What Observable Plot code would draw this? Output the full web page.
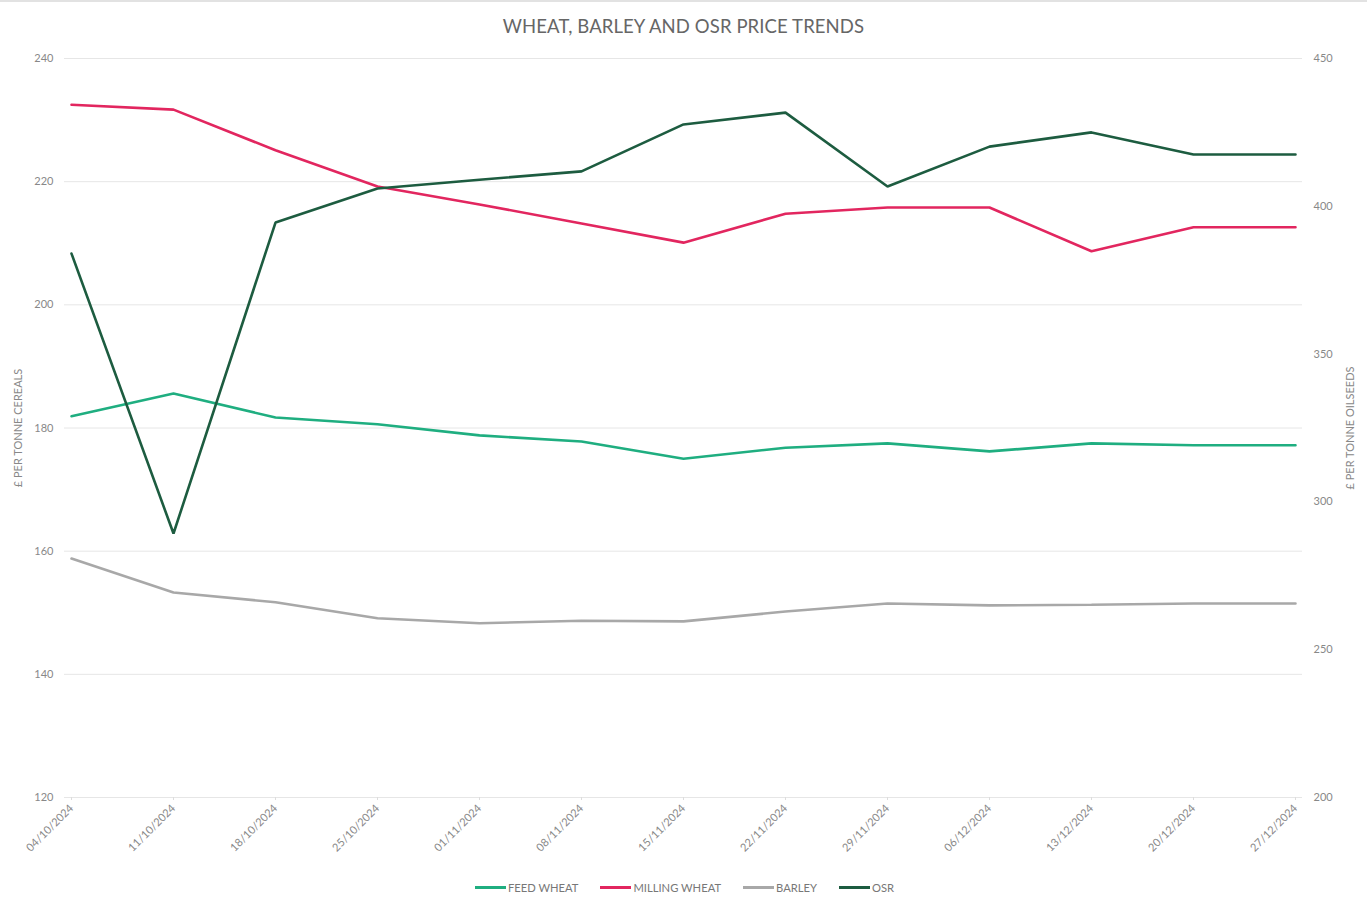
<!DOCTYPE html>
<html>
<head>
<meta charset="utf-8">
<script src="https://cdn.jsdelivr.net/npm/d3@7"></script>
<script src="https://cdn.jsdelivr.net/npm/@observablehq/plot@0.6"></script>
<style>
  html, body { margin: 0; padding: 0; background: #fff; }
  body { width: 1367px; height: 899px; overflow: hidden; font-family: Lato, "Open Sans", sans-serif; border-top: 2px solid #e2e2e2; box-sizing: border-box; }
  #title { height: 43px; line-height: 48px; text-align: center; font-size: 18.5px; color: #666; letter-spacing: 0.1px; }
  #chart svg { display: block; }
  #legend { display: flex; justify-content: center; align-items: center; gap: 22px; font-size: 11.2px; color: #777; margin-top: 0px; padding-left: 2px; }
  #legend .item { display: flex; align-items: center; }
  #legend .sw { display: inline-block; width: 31px; height: 3px; margin-right: 2px; }
</style>
</head>
<body>
<div id="title">WHEAT, BARLEY AND OSR PRICE TRENDS</div>
<div id="chart"></div>
<div id="legend"></div>
<script>
const dates = ["04/10/2024","11/10/2024","18/10/2024","25/10/2024","01/11/2024","08/11/2024","15/11/2024","22/11/2024","29/11/2024","06/12/2024","13/12/2024","20/12/2024","27/12/2024"];
const feedWheat    = [181.9, 185.6, 181.7, 180.6, 178.8, 177.8, 175.0, 176.8, 177.5, 176.2, 177.5, 177.2, 177.2];
const millingWheat = [232.5, 231.7, 225.1, 219.2, 216.3, 213.2, 210.1, 214.8, 215.8, 215.8, 208.7, 212.6, 212.6];
const barley       = [158.8, 153.3, 151.7, 149.1, 148.3, 148.7, 148.6, 150.2, 151.5, 151.2, 151.3, 151.5, 151.5];
const osr          = [384.0, 289.3, 394.5, 406.0, 409.0, 411.8, 427.7, 431.7, 406.7, 420.2, 425.0, 417.5, 417.5];

const seriesNames = ["FEED WHEAT", "MILLING WHEAT", "BARLEY", "OSR"];
const seriesColors = ["#1fae80", "#e2265f", "#a8a8a8", "#1d5c40"];
const leftTicks = [120, 140, 160, 180, 200, 220, 240];
const rightTicks = [200, 250, 300, 350, 400, 450];
const leftDomain = [120, 240];
const rightDomain = [200, 450];

// map right-axis (oilseed) values onto the left-axis scale
const toLeft = v => leftDomain[0] + (v - rightDomain[0]) * (leftDomain[1] - leftDomain[0]) / (rightDomain[1] - rightDomain[0]);
const toRight = v => rightDomain[0] + (v - leftDomain[0]) * (rightDomain[1] - rightDomain[0]) / (leftDomain[1] - leftDomain[0]);

const seriesValues = [feedWheat, millingWheat, barley, osr.map(toLeft)];
const rows = [];
seriesNames.forEach((name, s) => {
  dates.forEach((d, i) => rows.push({series: name, date: d, value: seriesValues[s][i]}));
});

const chart = Plot.plot({
  width: 1367,
  height: 836,
  marginTop: 13,
  marginBottom: 84,
  marginLeft: 70,
  marginRight: 71,
  style: {fontFamily: "Lato, 'Open Sans', sans-serif", fontSize: "11px", color: "#888", background: "#fff"},
  x: {type: "point", domain: dates, padding: 0, label: null},
  y: {domain: leftDomain, label: null},
  color: {domain: seriesNames, range: seriesColors},
  marks: [
    Plot.ruleY(leftTicks, {y: d => d, stroke: "#e6e6e6", strokeWidth: 1, insetLeft: -6, insetRight: -6}),
    Plot.axisX({tickRotate: -45, tickSize: 3, tickPadding: 6, stroke: "#ddd", color: "#888", fontSize: "11px"}),
    Plot.axisY({anchor: "left", ticks: leftTicks, tickSize: 0, tickPadding: 17, label: null, color: "#888"}),
    Plot.axisY({anchor: "right", ticks: rightTicks.map(toLeft), tickFormat: d => Math.round(toRight(d)), tickSize: 0, tickPadding: 17, label: null, color: "#888"}),
    Plot.text(["£ PER TONNE CEREALS"], {frameAnchor: "left", textAnchor: "middle", dx: -52, rotate: -90, fill: "#888", fontSize: 11}),
    Plot.text(["£ PER TONNE OILSEEDS"], {frameAnchor: "right", textAnchor: "middle", dx: 54, rotate: -90, fill: "#888", fontSize: 11}),
    Plot.line(rows, {x: "date", y: "value", z: "series", stroke: "series", strokeWidth: 2.6, strokeLinejoin: "miter", strokeLinecap: "round"})
  ]
});
document.getElementById("chart").appendChild(chart);

const legend = document.getElementById("legend");
seriesNames.forEach((name, i) => {
  const item = document.createElement("span");
  item.className = "item";
  const sw = document.createElement("span");
  sw.className = "sw";
  sw.style.background = seriesColors[i];
  item.appendChild(sw);
  item.appendChild(document.createTextNode(name));
  legend.appendChild(item);
});
</script>
</body>
</html>
